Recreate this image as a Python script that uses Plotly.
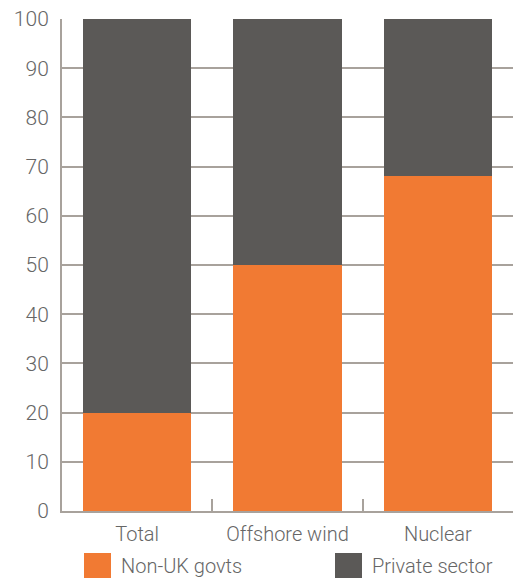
import plotly.graph_objects as go

categories = ["Total", "Offshore wind", "Nuclear"]
non_uk_govts = [20, 50, 68]
private_sector = [80, 50, 32]
series_names = ["Non-UK govts", "Private sector"]
y_ticks = [0, 10, 20, 30, 40, 50, 60, 70, 80, 90, 100]

ORANGE = "#F17A33"
DARK = "#5B5957"
GRID = "#A8A29C"
TEXT = "#666666"
FONT = "Roboto"
FS = 20

fig = go.Figure()
fig.add_trace(go.Bar(x=categories, y=non_uk_govts, name=series_names[0],
                     marker=dict(color=ORANGE, line=dict(width=0))))
fig.add_trace(go.Bar(x=categories, y=private_sector, name=series_names[1],
                     marker=dict(color=DARK, line=dict(width=0))))

fig.update_layout(
    barmode="stack",
    bargap=0.28,
    width=513, height=578,
    margin=dict(l=62, r=0, t=19, b=67),
    plot_bgcolor="white", paper_bgcolor="white",
    showlegend=False,
    font=dict(family=FONT, size=FS, color=TEXT, weight=300),
)
fig.update_yaxes(
    range=[0, 100], tickvals=y_ticks, showgrid=True, gridcolor=GRID, gridwidth=2,
    showline=True, linecolor=GRID, linewidth=2, zeroline=False,
    ticks="", ticklabelstandoff=7,
    tickfont=dict(family=FONT, size=21, color=TEXT, weight=300),
)
fig.update_xaxes(
    showline=True, linecolor=GRID, linewidth=2,
    tickson="boundaries", ticks="inside", ticklen=12, tickcolor=GRID, tickwidth=2,
    ticklabelstandoff=4,
    tickfont=dict(family=FONT, size=FS, color=TEXT, weight=300),
)

# Legend drawn as squares + text below the chart
legend_x = [84, 335]
for i, (name, color) in enumerate(zip(series_names, [ORANGE, DARK])):
    x0 = (legend_x[i] - 62) / 451
    x1 = (legend_x[i] + 27 - 62) / 451
    fig.add_shape(type="rect", xref="paper", yref="paper",
                  x0=x0, x1=x1, y0=-(578 - 511) / 492, y1=-(553 - 511) / 492,
                  fillcolor=color, line=dict(width=0))
    fig.add_annotation(xref="paper", yref="paper",
                       x=(legend_x[i] + 35 - 62) / 451, y=-(566 - 511) / 492,
                       text=name, showarrow=False, xanchor="left", yanchor="middle",
                       font=dict(family=FONT, size=FS, color=TEXT, weight=300))

fig.write_html("out.html")
